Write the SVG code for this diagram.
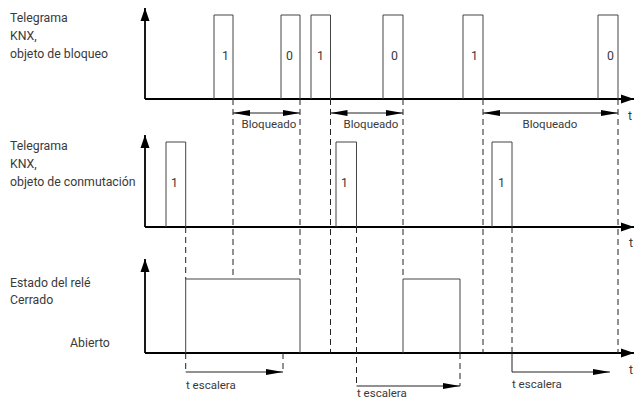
<svg xmlns="http://www.w3.org/2000/svg" width="635" height="399" viewBox="0 0 635 399">
<defs>
<style>
.lbl{font-family:Roboto,"Liberation Sans",sans-serif;font-size:12.3px;fill:#3a3a3a}
.sm{font-family:Roboto,"Liberation Sans",sans-serif;font-size:11.5px;fill:#3a3a3a}
.axis{stroke:#000;stroke-width:1.8;fill:none}
.pulse{stroke:#444;stroke-width:1;fill:none}
.dash{stroke:#222;stroke-width:1;stroke-dasharray:6,4;fill:none}
.dim{stroke:#222;stroke-width:1;fill:none}
</style>
<marker id="ah" markerUnits="userSpaceOnUse" markerWidth="18" markerHeight="8" refX="17" refY="4" orient="auto-start-reverse" viewBox="0 0 18 8">
<path d="M0,1 L17,4 L0,7 Z" fill="#000"/>
</marker>
<marker id="axh" markerUnits="userSpaceOnUse" markerWidth="14" markerHeight="10" refX="13" refY="5" orient="auto" viewBox="0 0 14 10">
<path d="M0,0.5 L13,5 L0,9.5 Z" fill="#000"/>
</marker>
</defs>

<g id="labels">
<text class="lbl" x="10" y="22">Telegrama</text>
<text class="lbl" x="10" y="40">KNX,</text>
<text class="lbl" x="10" y="58">objeto de bloqueo</text>
<text class="lbl" x="10" y="150">Telegrama</text>
<text class="lbl" x="10" y="168">KNX,</text>
<text class="lbl" x="10" y="186">objeto de conmutación</text>
<text class="lbl" x="10" y="287">Estado del relé</text>
<text class="lbl" x="10" y="304">Cerrado</text>
<text class="lbl" x="70" y="347">Abierto</text>
</g>

<g id="axes">
<path class="axis" d="M145,99 V8" marker-end="url(#axh)"/>
<path class="axis" d="M145,99 H634" marker-end="url(#axh)"/>
<path class="axis" d="M145,227 V135" marker-end="url(#axh)"/>
<path class="axis" d="M145,227 H634" marker-end="url(#axh)"/>
<path class="axis" d="M145,353 V259" marker-end="url(#axh)"/>
<path class="axis" d="M145,353 H634" marker-end="url(#axh)"/>
<text class="lbl" x="628" y="120">t</text>
<text class="lbl" x="629" y="247">t</text>
<text class="lbl" x="629" y="374">t</text>
</g>

<g id="blocking-telegrams">
<path class="pulse" d="M214,99 V15 H233 V99"/>
<path class="pulse" d="M281,99 V15 H300 V99"/>
<path class="pulse" d="M311,99 V15 H330.5 V99"/>
<path class="pulse" d="M383,99 V15 H403 V99"/>
<path class="pulse" d="M463,99 V15 H483 V99"/>
<path class="pulse" d="M598,99 V15 H618 V99"/>
<text class="lbl" x="222" y="60">1</text>
<text class="lbl" x="286" y="60">0</text>
<text class="lbl" x="317" y="60">1</text>
<text class="lbl" x="391" y="60">0</text>
<text class="lbl" x="471" y="60">1</text>
<text class="lbl" x="607" y="60">0</text>
</g>

<g id="switching-telegrams">
<path class="pulse" d="M166,227 V142 H185.7 V227"/>
<path class="pulse" d="M336,227 V142 H356.5 V227"/>
<path class="pulse" d="M492,227 V142 H512 V227"/>
<text class="lbl" x="171" y="187">1</text>
<text class="lbl" x="341" y="187">1</text>
<text class="lbl" x="498" y="187">1</text>
</g>

<g id="relay-state">
<path class="pulse" d="M185.7,353 V279 H300 V353"/>
<path class="pulse" d="M403,353 V279 H460 V353"/>
</g>

<g id="connectors">
<path class="dash" d="M185.7,227 V279"/>
<path class="dash" d="M185.7,353 V372"/>
<path class="dash" d="M233,99 V279"/>
<path class="dash" d="M300,99 V279"/>
<path class="dash" d="M330.5,99 V353"/>
<path class="dash" d="M356.5,227 V386"/>
<path class="dash" d="M403,99 V279"/>
<path class="dash" d="M460,353 V386"/>
<path class="dash" d="M483,99 V353"/>
<path class="dash" d="M512,227 V353"/>
<path class="dash" d="M618,99 V353"/>
<path class="dash" d="M283,353 V372"/>
<path class="dim" d="M512,353 V372"/>

<path class="dim" d="M233,113 H300" marker-start="url(#ah)" marker-end="url(#ah)"/>
<path class="dim" d="M330.5,113 H403" marker-start="url(#ah)" marker-end="url(#ah)"/>
<path class="dim" d="M483,113 H618" marker-start="url(#ah)" marker-end="url(#ah)"/>
<text class="sm" x="269" y="128" text-anchor="middle">Bloqueado</text>
<text class="sm" x="371" y="128" text-anchor="middle">Bloqueado</text>
<text class="sm" x="550" y="128" text-anchor="middle">Bloqueado</text>

<path class="dim" d="M185.7,372 H283" marker-end="url(#ah)"/>
<path class="dim" d="M356.5,386 H460" marker-end="url(#ah)"/>
<path class="dim" d="M512,372 H610" marker-end="url(#ah)"/>
<text class="sm" x="186" y="389">t escalera</text>
<text class="sm" x="357" y="397">t escalera</text>
<text class="sm" x="512" y="388">t escalera</text>
</g>
</svg>
